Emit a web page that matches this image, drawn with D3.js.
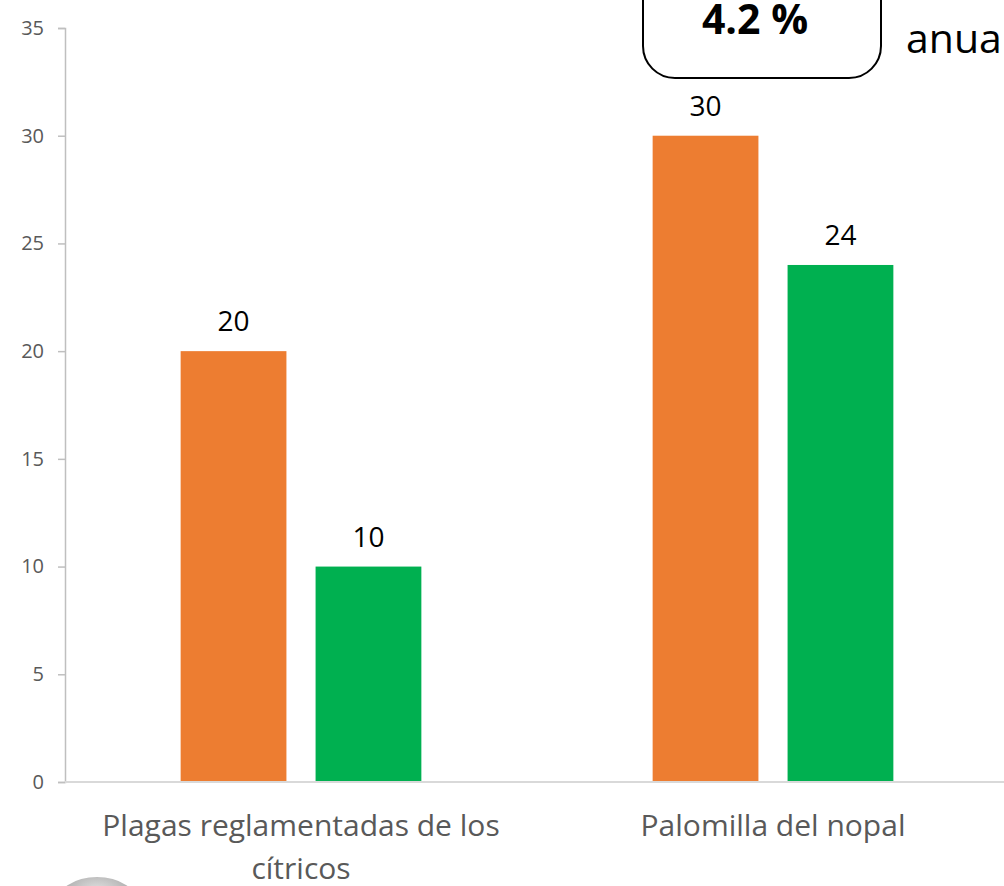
<!DOCTYPE html>
<html>
<head>
<meta charset="utf-8">
<script src="https://cdn.jsdelivr.net/npm/d3@7"></script>
<style>
  html, body { margin: 0; padding: 0; background: #fff; }
  svg { display: block; font-family: "Open Sans", sans-serif; }
</style>
</head>
<body>
<div id="chart"></div>
<script>
// categories and series
const categories = ["Plagas reglamentadas de los cítricos", "Palomilla del nopal"];
const categoryLines = [["Plagas reglamentadas de los", "cítricos"], ["Palomilla del nopal"]];
const seriesNames = ["Serie 1", "Serie 2"];
const serie1 = [20, 30];
const serie2 = [10, 24];
const seriesColors = ["#ED7D31", "#00B050"];
const yTicks = [0, 5, 10, 15, 20, 25, 30, 35];

const width = 1004, height = 886;

const svg = d3.select("#chart").append("svg")
  .attr("width", width)
  .attr("height", height);

const x0 = d3.scaleBand().domain(categories).range([65, 1009])
  .paddingInner(0.49).paddingOuter(0.245);
const x1 = d3.scaleBand().domain(seriesNames).range([0, x0.bandwidth()]).paddingInner(0.216);
const y = d3.scaleLinear().domain([0, 35]).range([782, 28]);

const rows = categories.map((c, i) => ({
  category: c,
  values: [
    { key: seriesNames[0], value: serie1[i] },
    { key: seriesNames[1], value: serie2[i] }
  ]
}));

// y axis
const yAxis = svg.append("g")
  .attr("transform", "translate(65,0)")
  .call(d3.axisLeft(y).tickValues(yTicks).tickSize(7).tickPadding(14));
yAxis.select(".domain").attr("stroke", "#BFBFBF").attr("stroke-width", 1.5);
yAxis.selectAll(".tick line").attr("stroke", "#BFBFBF").attr("stroke-width", 1.5);
yAxis.selectAll(".tick text")
  .attr("fill", "#595959")
  .style("font-size", "20px")
  .style("font-family", "'Open Sans', sans-serif");

// bars
const groups = svg.append("g").selectAll("g")
  .data(rows)
  .join("g")
    .attr("transform", d => `translate(${x0(d.category)},0)`);

groups.selectAll("rect")
  .data(d => d.values)
  .join("rect")
    .attr("x", d => x1(d.key))
    .attr("y", d => y(d.value))
    .attr("width", x1.bandwidth())
    .attr("height", d => y(0) - y(d.value))
    .attr("fill", (d, i) => seriesColors[i]);

groups.selectAll("text.value")
  .data(d => d.values)
  .join("text")
    .attr("class", "value")
    .attr("x", d => x1(d.key) + x1.bandwidth() / 2)
    .attr("y", d => y(d.value) - 20)
    .attr("text-anchor", "middle")
    .attr("fill", "#000")
    .style("font-size", "28px")
    .text(d => d.value);

// x axis line
svg.append("line")
  .attr("x1", 65).attr("x2", width)
  .attr("y1", y(0)).attr("y2", y(0))
  .attr("stroke", "#D9D9D9")
  .attr("stroke-width", 2);

// category labels
categoryLines.forEach((lines, i) => {
  const cx = x0(categories[i]) + x0.bandwidth() / 2;
  const t = svg.append("text")
    .attr("text-anchor", "middle")
    .attr("fill", "#595959")
    .style("font-size", "30px");
  lines.forEach((ln, j) => {
    t.append("tspan").attr("x", cx).attr("y", 836 + j * 43).text(ln);
  });
});

// annotation box (cut at top)
svg.append("rect")
  .attr("x", 643).attr("y", -60)
  .attr("width", 238).attr("height", 138)
  .attr("rx", 32).attr("ry", 32)
  .attr("fill", "none")
  .attr("stroke", "#000")
  .attr("stroke-width", 2);

svg.append("text")
  .attr("x", 755).attr("y", 34)
  .attr("text-anchor", "middle")
  .attr("font-weight", "bold")
  .attr("fill", "#000")
  .style("font-size", "41px")
  .text("4.2 %");

svg.append("text")
  .attr("x", 906).attr("y", 53)
  .attr("fill", "#000")
  .style("font-size", "41px")
  .text("anual");

// partial logo at the bottom left
const grad = svg.append("defs").append("radialGradient")
  .attr("id", "logoGrad")
  .attr("cx", "50%").attr("cy", "30%").attr("r", "60%");
grad.append("stop").attr("offset", "0%").attr("stop-color", "#e6e6e6");
grad.append("stop").attr("offset", "70%").attr("stop-color", "#b0b0b0");
grad.append("stop").attr("offset", "100%").attr("stop-color", "#8c8c8c");
svg.append("ellipse")
  .attr("cx", 97).attr("cy", 904)
  .attr("rx", 41).attr("ry", 27)
  .attr("fill", "url(#logoGrad)");
</script>
</body>
</html>
